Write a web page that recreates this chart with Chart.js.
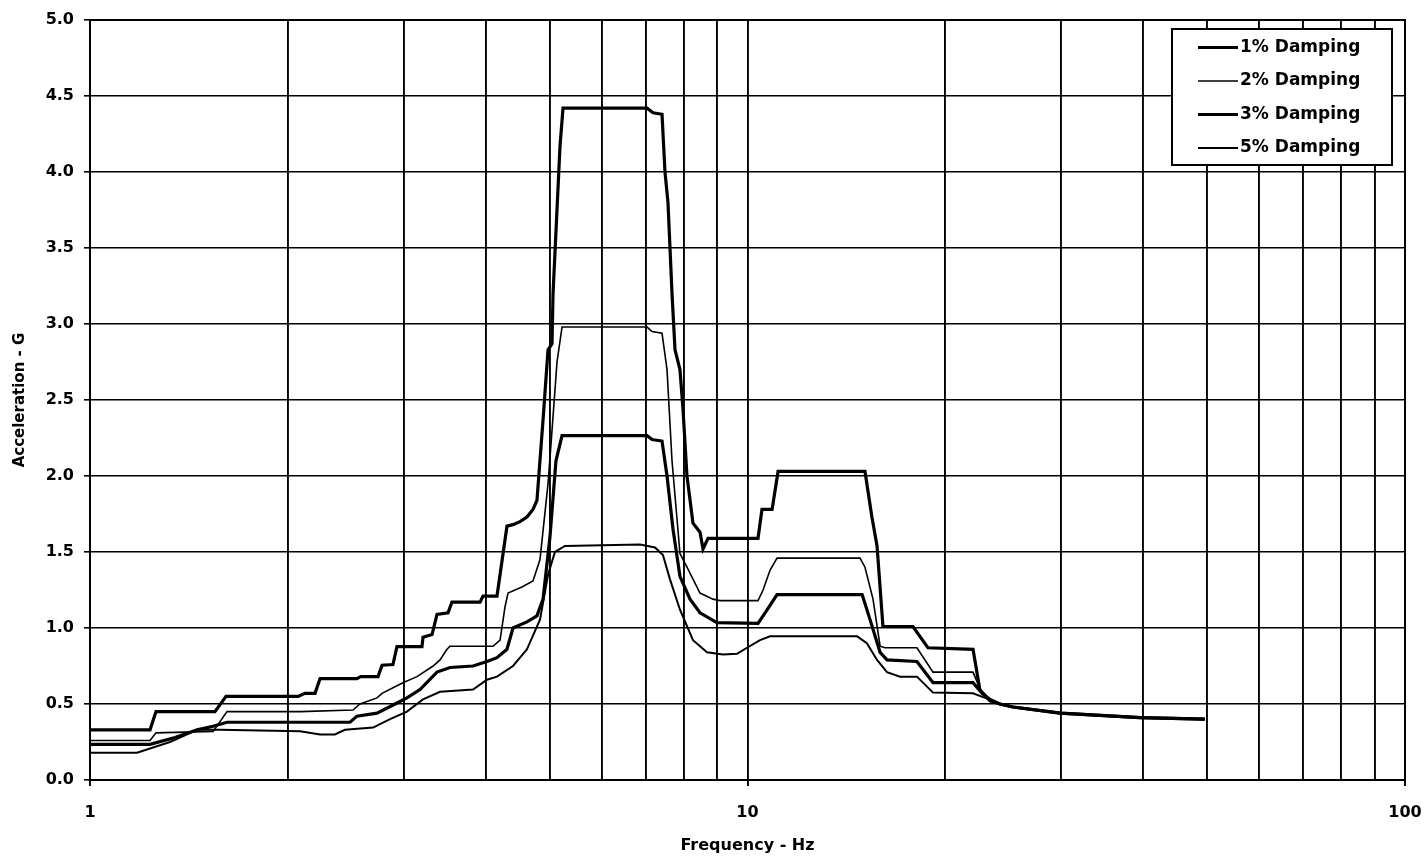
<!DOCTYPE html>
<html>
<head>
<meta charset="utf-8">
<title>Response spectrum</title>
<script src="https://cdn.jsdelivr.net/npm/chart.js@4.4.1/dist/chart.umd.min.js"></script>
<style>
  html, body { margin: 0; padding: 0; background: #fff; }
  #wrap { width: 1428px; height: 864px; }
</style>
</head>
<body>
<div id="wrap"><canvas id="spectrum"></canvas></div>
<script>
// Frequency (Hz) / acceleration (G) pairs
const freq1 = [1, 1.234, 1.26, 1.549, 1.61, 2.072, 2.123, 2.199, 2.238, 2.547, 2.58, 2.742, 2.781, 2.889, 2.93, 3.198, 3.21, 3.313, 3.371, 3.504, 3.552, 3.92, 3.96, 4.159, 4.307, 4.399, 4.508, 4.619, 4.718, 4.784, 4.887, 4.973, 5.043, 5.061, 5.186, 5.241, 7.034, 7.184, 7.413, 7.49, 7.569, 7.677, 7.758, 7.894, 7.978, 8.09, 8.262, 8.468, 8.557, 8.709, 10.375, 10.52, 10.9, 11.13, 15.09, 15.46, 15.74, 16.07, 17.85, 18.81, 22.03, 22.57, 23.38, 24.21, 25.34, 29.88, 39.54, 49.6];
const acc1 = [0.33, 0.33, 0.45, 0.45, 0.55, 0.55, 0.57, 0.57, 0.667, 0.667, 0.68, 0.68, 0.755, 0.76, 0.877, 0.877, 0.94, 0.957, 1.09, 1.10, 1.17, 1.17, 1.21, 1.21, 1.67, 1.68, 1.70, 1.73, 1.78, 1.84, 2.37, 2.83, 2.87, 3.2, 4.17, 4.42, 4.42, 4.39, 4.38, 4.0, 3.80, 3.2, 2.83, 2.70, 2.44, 2.0, 1.69, 1.63, 1.52, 1.59, 1.59, 1.78, 1.78, 2.03, 2.03, 1.73, 1.54, 1.01, 1.01, 0.87, 0.86, 0.59, 0.52, 0.50, 0.48, 0.44, 0.41, 0.40];

const freq2 = [1, 1.234, 1.26, 1.539, 1.616, 2.087, 2.512, 2.574, 2.732, 2.781, 2.93, 2.992, 3.143, 3.325, 3.407, 3.491, 3.528, 4.102, 4.204, 4.278, 4.323, 4.539, 4.718, 4.835, 4.973, 5.043, 5.132, 5.223, 7.034, 7.159, 7.413, 7.544, 7.677, 7.894, 8.09, 8.468, 8.861, 9.08, 10.375, 10.56, 10.82, 11.09, 14.83, 15.09, 15.52, 15.91, 16.19, 18.10, 19.15, 22.03, 22.57, 23.38, 24.21, 25.34, 29.88, 39.54, 49.6];
const acc2 = [0.26, 0.26, 0.31, 0.32, 0.45, 0.45, 0.46, 0.50, 0.54, 0.57, 0.62, 0.64, 0.68, 0.75, 0.79, 0.86, 0.88, 0.88, 0.92, 1.14, 1.23, 1.27, 1.31, 1.45, 1.95, 2.3, 2.75, 2.98, 2.98, 2.95, 2.94, 2.70, 2.1, 1.49, 1.40, 1.23, 1.19, 1.18, 1.18, 1.25, 1.38, 1.46, 1.46, 1.40, 1.19, 0.88, 0.87, 0.87, 0.71, 0.71, 0.60, 0.53, 0.50, 0.48, 0.44, 0.41, 0.40];

const freq3 = [1, 1.234, 1.347, 1.455, 1.539, 1.616, 2.486, 2.547, 2.732, 2.941, 3.034, 3.176, 3.371, 3.528, 3.824, 4.016, 4.159, 4.307, 4.399, 4.619, 4.784, 4.887, 5.007, 5.113, 5.223, 7.034, 7.159, 7.413, 7.544, 7.704, 7.894, 8.177, 8.468, 8.986, 10.375, 10.71, 11.09, 14.94, 15.36, 15.91, 16.30, 18.10, 19.15, 22.03, 22.74, 23.38, 24.21, 25.34, 29.88, 39.54, 49.6];
const acc3 = [0.235, 0.235, 0.28, 0.33, 0.354, 0.38, 0.38, 0.42, 0.44, 0.51, 0.54, 0.595, 0.71, 0.74, 0.75, 0.78, 0.805, 0.86, 1.00, 1.04, 1.08, 1.19, 1.6, 2.1, 2.265, 2.265, 2.24, 2.23, 2.0, 1.65, 1.34, 1.19, 1.10, 1.035, 1.03, 1.12, 1.22, 1.22, 1.055, 0.84, 0.79, 0.78, 0.64, 0.64, 0.57, 0.53, 0.50, 0.48, 0.44, 0.41, 0.40];

const freq5 = [1, 1.179, 1.323, 1.455, 1.577, 2.087, 2.238, 2.358, 2.442, 2.695, 2.86, 3.034, 3.21, 3.407, 3.824, 4.016, 4.159, 4.399, 4.619, 4.835, 4.973, 5.095, 5.277, 6.864, 7.234, 7.437, 7.623, 7.894, 8.262, 8.679, 9.176, 9.639, 9.983, 10.45, 10.82, 14.68, 15.19, 15.74, 16.30, 17.06, 18.10, 19.15, 22.03, 22.81, 23.38, 24.21, 25.34, 29.88, 39.54, 49.6];
const acc5 = [0.18, 0.18, 0.25, 0.33, 0.33, 0.32, 0.30, 0.30, 0.33, 0.345, 0.40, 0.45, 0.53, 0.58, 0.595, 0.66, 0.68, 0.75, 0.86, 1.055, 1.35, 1.5, 1.54, 1.55, 1.53, 1.48, 1.32, 1.12, 0.92, 0.84, 0.825, 0.83, 0.87, 0.92, 0.945, 0.945, 0.90, 0.79, 0.71, 0.68, 0.68, 0.575, 0.57, 0.545, 0.53, 0.50, 0.48, 0.44, 0.41, 0.40];

const seriesLabels = ['1% Damping', '2% Damping', '3% Damping', '5% Damping'];
const xGridValues = [1, 2, 3, 4, 5, 6, 7, 8, 9, 10, 20, 30, 40, 50, 60, 70, 80, 90, 100];
const xLabelValues = [1, 10, 100];

const FONT = "'DejaVu Sans', 'Liberation Sans', Arial, sans-serif";

function toPoints(xs, ys) {
  return xs.map((x, i) => ({ x: x, y: ys[i] }));
}

// plot frame (top/right edges too)
const framePlugin = {
  id: 'frame',
  afterDatasetsDraw(chart) {
    const { ctx, chartArea: a } = chart;
    ctx.save();
    ctx.strokeStyle = '#000';
    ctx.lineWidth = 2;
    ctx.strokeRect(a.left, a.top, a.right - a.left, a.bottom - a.top);
    ctx.restore();
  }
};

// boxed legend inside the top-right corner of the plot
const boxLegendPlugin = {
  id: 'boxLegend',
  afterDraw(chart) {
    const { ctx, chartArea: a } = chart;
    const w = 220, h = 136;
    const x0 = a.right - 13 - w;
    const y0 = a.top + 9;
    ctx.save();
    ctx.fillStyle = '#fff';
    ctx.fillRect(x0, y0, w, h);
    ctx.strokeStyle = '#000';
    ctx.lineWidth = 2;
    ctx.strokeRect(x0, y0, w, h);
    ctx.font = 'bold 17px ' + FONT;
    ctx.textBaseline = 'middle';
    ctx.fillStyle = '#000';
    chart.data.datasets.forEach((ds, i) => {
      const y = y0 + 18.5 + i * 33.5;
      ctx.beginPath();
      ctx.lineWidth = ds.borderWidth;
      ctx.moveTo(x0 + 26, y);
      ctx.lineTo(x0 + 66, y);
      ctx.stroke();
      ctx.fillText(ds.label, x0 + 68, y);
    });
    ctx.restore();
  }
};

function makeChart() {
  const canvas = document.getElementById('spectrum');
  return new Chart(canvas, {
    type: 'line',
    data: {
      datasets: [
        { label: seriesLabels[0], data: toPoints(freq1, acc1), borderWidth: 3.2 },
        { label: seriesLabels[1], data: toPoints(freq2, acc2), borderWidth: 1.6 },
        { label: seriesLabels[2], data: toPoints(freq3, acc3), borderWidth: 3.2 },
        { label: seriesLabels[3], data: toPoints(freq5, acc5), borderWidth: 2 }
      ].map(ds => Object.assign(ds, {
        borderColor: '#000',
        backgroundColor: '#000',
        pointRadius: 0,
        tension: 0,
        fill: false
      }))
    },
    options: {
      responsive: true,
      maintainAspectRatio: false,
      animation: false,
      layout: { padding: { left: 0, top: 20, right: 23, bottom: 0 } },
      plugins: {
        legend: { display: false },
        tooltip: { enabled: false }
      },
      scales: {
        x: {
          type: 'logarithmic',
          min: 1,
          max: 100,
          afterBuildTicks: (scale) => {
            scale.ticks = xGridValues.map(v => ({ value: v }));
          },
          afterFit: (scale) => {
            scale.height = 84;
            scale.paddingLeft = 0;
            scale.paddingRight = 0;
          },
          grid: {
            color: '#000',
            lineWidth: 1.9,
            tickLength: 6,
            tickColor: (c) => (c.tick && xLabelValues.includes(c.tick.value)) ? '#000' : 'rgba(0,0,0,0)'
          },
          border: { color: '#000', width: 2 },
          ticks: {
            autoSkip: false,
            maxRotation: 0,
            padding: 17,
            color: '#000',
            font: { family: FONT, size: 16, weight: 'bold' },
            callback: (v) => xLabelValues.includes(v) ? String(v) : ''
          },
          title: {
            display: true,
            text: 'Frequency - Hz',
            color: '#000',
            font: { family: FONT, size: 16, weight: 'bold' },
            padding: { top: 0, bottom: 9 }
          }
        },
        y: {
          min: 0,
          max: 5,
          afterFit: (scale) => { scale.width = 90; },
          grid: { color: '#000', lineWidth: 1.6, tickLength: 6, tickColor: '#000' },
          border: { color: '#000', width: 2 },
          ticks: {
            stepSize: 0.5,
            padding: 10,
            color: '#000',
            font: { family: FONT, size: 16, weight: 'bold' },
            callback: (v) => Number(v).toFixed(1)
          },
          title: {
            display: true,
            text: 'Acceleration - G',
            color: '#000',
            font: { family: FONT, size: 15, weight: 'bold' },
            padding: { top: 11, bottom: 0 }
          }
        }
      }
    },
    plugins: [framePlugin, boxLegendPlugin]
  });
}

makeChart();
</script>
</body>
</html>
